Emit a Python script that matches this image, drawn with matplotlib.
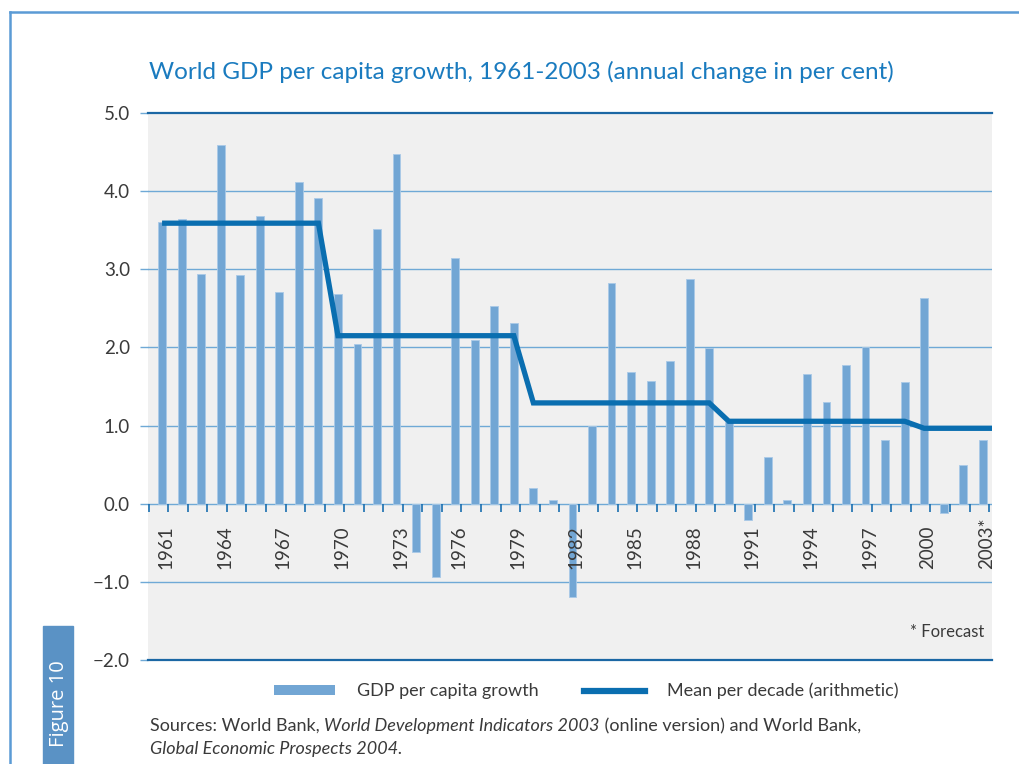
import matplotlib
matplotlib.use('Agg')
import matplotlib.pyplot as plt
from matplotlib.lines import Line2D
from matplotlib.patches import Rectangle, Patch
import numpy as np

years = list(range(1961, 2004))
growth = [3.60, 3.64, 2.94, 4.59, 2.93, 3.68, 2.71, 4.12, 3.91,
          2.69, 2.05, 3.51, 4.47, -0.62, -0.94, 3.14, 2.09, 2.53, 2.31,
          0.20, 0.05, -1.20, 0.99, 2.82, 1.69, 1.57, 1.83, 2.87, 1.99,
          1.04, -0.21, 0.60, 0.05, 1.66, 1.30, 1.78, 2.00, 0.81, 1.56,
          2.63, -0.12, 0.50, 0.81]
decade_mean = [3.59] * 9 + [2.15] * 10 + [1.29] * 10 + [1.055] * 10 + [0.965] * 4
label_years = years[::3]
label_text = [str(y) for y in label_years[:-1]] + ['2003*']
yticks = [5.0, 4.0, 3.0, 2.0, 1.0, 0.0, -1.0, -2.0]

font = 'Lato'
bar_color = '#72a6d4'
line_color = '#0a6eb0'
grid_color = '#6fa9d6'
dark_line = '#1b67a4'
text_color = '#3a3a3a'

fig = plt.figure(figsize=(10.19, 7.64), dpi=100)
ax = fig.add_axes([148 / 1019, 1 - 660 / 764, 844 / 1019, 547 / 764])
ax.set_facecolor('#f0f0f0')

ax.bar(years, growth, width=0.4, color=bar_color, edgecolor='#a9c9e7',
       linewidth=0.6, zorder=3)
# mean line runs on to the right edge of the plot
ax.plot(years + [2004], decade_mean + [decade_mean[-1]], color=line_color,
        lw=3.8, zorder=4, solid_capstyle='butt', solid_joinstyle='miter')

ax.set_xlim(1960.28, 2003.47)
ax.set_ylim(-2.0, 5.0)

for v in yticks:
    if v in (5.0, -2.0):
        ax.axhline(v, color=dark_line, lw=1.6, zorder=5, clip_on=False)
    else:
        ax.axhline(v, color=grid_color, lw=1.0, zorder=2)
ax.set_yticks(yticks)
ax.set_yticklabels([f'{v:.1f}'.replace('-', '\u2212') for v in yticks],
                   fontsize=13.5, color=text_color, family=font)
ax.tick_params(axis='y', length=6, width=1.0, color=grid_color, pad=7)
for t, v in zip(ax.yaxis.get_ticklines()[0::2], yticks):
    if v in (5.0, -2.0):
        t.set_color(dark_line)

# small ticks on the zero line, between the bars
ax.set_xticks([])
tick_x = np.arange(1960.32, 2004.0, 1.0)
ax.vlines(tick_x, -0.11, 0.0, color='#1a6fb0', lw=1.2, zorder=3)

for y, s in zip(label_years, label_text):
    ax.text(y + 0.2, -0.83, s, rotation=90, ha='center', va='bottom',
            fontsize=13.5, color=text_color, family=font, zorder=6)

ax.text(0.991, 0.051, '* Forecast', transform=ax.transAxes, ha='right',
        va='center', fontsize=12, color=text_color, family=font)

for s in ax.spines.values():
    s.set_visible(False)

fig.text(521 / 1019, 1 - 72 / 764,
         'World GDP per capita growth, 1961-2003 (annual change in per cent)',
         ha='center', va='center', fontsize=17.5, color='#1a7bbf', family=font)

handles = [Patch(facecolor=bar_color, edgecolor='none'),
           Line2D([0], [0], color=line_color, lw=4.5)]
fig.legend(handles, ['GDP per capita growth', 'Mean per decade (arithmetic)'],
           loc='center', bbox_to_anchor=(586 / 1019, 1 - 691 / 764), ncol=2,
           frameon=False, handlelength=3.4, handleheight=0.5,
           columnspacing=2.5, handletextpad=1.2,
           prop={'family': font, 'size': 13}, labelcolor=text_color)

# sources line with the italic title inside it
fig.canvas.draw()
r = fig.canvas.get_renderer()
x0 = 150 / 1019
parts = [('Sources: World Bank, ', 'normal'),
         ('World Development Indicators 2003', 'italic'),
         (' (online version) and World Bank,', 'normal')]
for s, st in parts:
    t = fig.text(x0, 1 - 726 / 764, s, fontsize=13, color=text_color,
                 family=font, style=st, va='center')
    x0 += t.get_window_extent(renderer=r).width / fig.bbox.width
fig.text(150 / 1019, 1 - 749 / 764, 'Global Economic Prospects 2004.',
         fontsize=13, color=text_color, family=font, style='italic',
         va='center')

# outer frame and figure tab
fig.add_artist(Line2D([10 / 1019, 10 / 1019], [0, 1 - 12 / 764],
                      color='#5b9bd5', lw=1.8))
fig.add_artist(Line2D([10 / 1019, 1], [1 - 12 / 764, 1 - 12 / 764],
                      color='#5b9bd5', lw=1.8))
fig.add_artist(Rectangle((43 / 1019, 0), 30 / 1019, 1 - 626 / 764,
                         transform=fig.transFigure, color='#5a92c5'))
fig.text(59 / 1019, 1 - 704 / 764, 'Figure 10', rotation=90, ha='center',
         va='center', fontsize=14.5, color='white', family='Open Sans')

fig.savefig('out.png', dpi=100)
